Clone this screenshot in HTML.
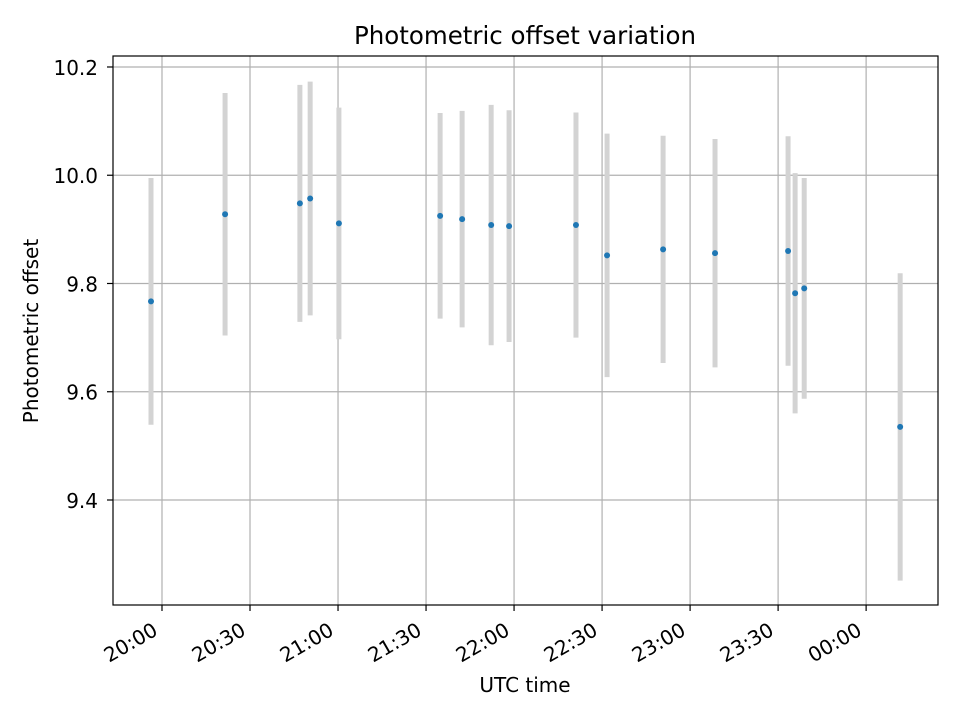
<!DOCTYPE html>
<html><head><meta charset="utf-8"><style>
html,body{margin:0;padding:0;background:#fff}
svg{display:block;font-family:"DejaVu Sans","Liberation Sans",sans-serif}
</style></head><body>
<svg id="chart" width="960" height="720" xmlns="http://www.w3.org/2000/svg">
<rect x="0" y="0" width="960" height="720" fill="#fff"/>
<g id="grid"></g>
<g id="errs"></g>
<g id="pts"></g>
<rect x="113" y="56" width="825" height="549" fill="none" stroke="#000" stroke-width="1.2"/>
<g id="ticks"></g>
<text x="525" y="44" font-size="24.5" text-anchor="middle">Photometric offset variation</text>
<text x="525" y="692" font-size="20" text-anchor="middle">UTC time</text>
<text transform="translate(38,331) rotate(-90)" font-size="20" text-anchor="middle">Photometric offset</text>
</svg>
<script>
// minutes after 20:00 UTC
const times=[-3.75,21.5,47,50.5,60.3,94.8,102.3,112.2,118.3,141.1,151.7,170.8,188.5,213.4,215.8,218.9,251.6];
const values=[9.767,9.928,9.948,9.957,9.911,9.925,9.919,9.908,9.906,9.908,9.852,9.863,9.856,9.860,9.782,9.791,9.535];
const errors=[0.228,0.224,0.219,0.216,0.214,0.19,0.2,0.222,0.214,0.208,0.225,0.21,0.211,0.212,0.222,0.204,0.284];
const xTicks=[0,30,60,90,120,150,180,210,240];
const xTickLabels=["20:00","20:30","21:00","21:30","22:00","22:30","23:00","23:30","00:00"];
const yTicks=[9.4,9.6,9.8,10.0,10.2];
const yTickLabels=["9.4","9.6","9.8","10.0","10.2"];

const L=113,R=938,T=56,B=605;
const xMin=-16.7,xMax=264.5,yMin=9.206,yMax=10.2203;
const X=v=>L+(v-xMin)/(xMax-xMin)*(R-L);
const Y=v=>B-(v-yMin)/(yMax-yMin)*(B-T);
const NS="http://www.w3.org/2000/svg";
function mk(tag,parent,attrs){const e=document.createElementNS(NS,tag);for(const k in attrs)e.setAttribute(k,attrs[k]);parent.appendChild(e);return e;}
const grid=document.getElementById('grid'),ticks=document.getElementById('ticks'),errs=document.getElementById('errs'),pts=document.getElementById('pts');
xTicks.forEach((t,i)=>{
  const x=X(t);
  const g=mk('line',grid,{x1:x,x2:x,y1:T,y2:B,stroke:'#b0b0b0','stroke-width':1.2});
  
  
  const tk=mk('line',ticks,{x1:x,x2:x,y1:B,y2:B+6,stroke:'#000','stroke-width':1.2});
  
  
  const ax=x-3,ay=B+29;
  const tx=mk('text',ticks,{x:ax,y:ay,'font-size':20,'text-anchor':'end',transform:`rotate(-30 ${ax} ${ay})`});
  tx.textContent=xTickLabels[i];
  
  
});
yTicks.forEach((t,i)=>{
  const y=Y(t);
  const g=mk('line',grid,{x1:L,x2:R,y1:y,y2:y,stroke:'#b0b0b0','stroke-width':1.2});
  
  
  const tk=mk('line',ticks,{x1:L-6,x2:L,y1:y,y2:y,stroke:'#000','stroke-width':1.2});
  
  
  const tx=mk('text',ticks,{x:L-15,y:y+8,'font-size':20,'text-anchor':'end'});
  tx.textContent=yTickLabels[i];
  
  
});
times.forEach((t,i)=>{
  const x=X(t);
  const e=mk('line',errs,{x1:x,x2:x,y1:Y(values[i]+errors[i]),y2:Y(values[i]-errors[i]),stroke:'#d3d3d3','stroke-width':5});
  
  
  const c=mk('circle',pts,{cx:x,cy:Y(values[i]),r:3,fill:'#1f77b4'});
  
  
});
</script>
</body></html>
